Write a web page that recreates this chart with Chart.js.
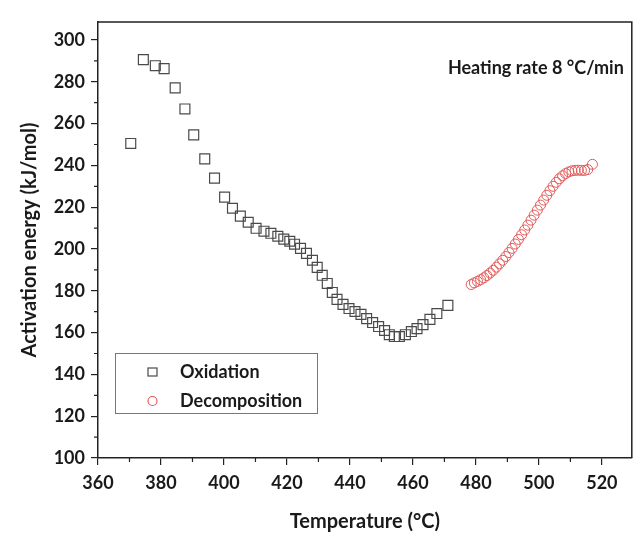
<!DOCTYPE html>
<html>
<head>
<meta charset="utf-8">
<script src="https://cdn.jsdelivr.net/npm/chart.js@4.4.1/dist/chart.umd.min.js"></script>
<style>
  html, body { margin: 0; padding: 0; background: #fff; }
  #wrap { width: 640px; height: 547px; }
</style>
</head>
<body>
<div id="wrap"><canvas id="chart" width="640" height="547"></canvas></div>
<script>
// Oxidation (squares)
const oxTemp = [370.4, 374.4, 378.2, 381.0, 384.5, 387.6, 390.4, 393.9, 397.0, 400.2,
  402.7, 405.2, 407.7, 410.2, 412.7, 414.9, 417.1, 419.0, 420.9, 422.4,
  424.3, 426.2, 428.1, 429.6, 431.2, 432.8, 434.4, 435.9, 437.8, 439.7,
  441.6, 443.5, 445.3, 447.2, 449.1, 451.0, 452.5, 454.1, 455.7, 457.6,
  459.5, 461.3, 463.2, 465.4, 467.6, 471.1];
const oxEnergy = [250.5, 290.6, 287.7, 286.3, 277.1, 267.0, 254.6, 243.1, 233.9, 224.8,
  219.5, 215.7, 212.8, 209.9, 208.5, 207.5, 206.1, 204.7, 203.7, 202.3,
  200.3, 197.9, 194.6, 191.2, 187.4, 183.5, 179.2, 175.9, 173.5, 171.5,
  170.1, 168.7, 166.7, 164.8, 162.9, 161.0, 159.0, 158.1, 158.1, 159.0,
  160.5, 161.9, 163.8, 166.3, 169.1, 173.0];

// Decomposition (circles)
const decTemp = [478.5, 479.5, 480.5, 481.5, 482.5, 483.5, 484.5, 485.5, 486.5, 487.5,
  488.5, 489.5, 490.5, 491.5, 492.5, 493.5, 494.5, 495.5, 496.5, 497.5,
  498.5, 499.5, 500.5, 501.5, 502.5, 503.5, 504.5, 505.5, 506.5, 507.5,
  508.5, 509.5, 510.5, 511.5, 512.5, 513.5, 514.5, 515.5, 517.0];
const decEnergy = [183.0, 183.8, 184.5, 185.3, 186.2, 187.3, 188.5, 189.8, 191.3, 192.9,
  194.6, 196.4, 198.3, 200.3, 202.4, 204.6, 206.8, 209.1, 211.4, 213.8,
  216.2, 218.6, 221.0, 223.4, 225.7, 227.9, 230.0, 231.9, 233.6, 235.0,
  236.1, 236.9, 237.4, 237.6, 237.7, 237.6, 237.6, 238.0, 240.5];

const xMinorTicks = [370, 390, 410, 430, 450, 470, 490, 510];
const yMinorTicks = [110, 130, 150, 170, 190, 210, 230, 250, 270, 290];
const noteText = 'Heating rate 8 \u00b0C/min';

const FONT = 'Lato, "Open Sans", sans-serif';
const TEXT = '#1a1a1a';

function toPoints(xs, ys) {
  return xs.map((x, i) => ({ x, y: ys[i] }));
}

// frame, minor ticks, legend box and note
const extras = {
  id: 'extras',
  afterDraw(chart) {
    const { ctx, chartArea: a, scales } = chart;
    ctx.save();
    ctx.strokeStyle = '#222';
    ctx.lineWidth = 1.5;
    ctx.beginPath();
    ctx.moveTo(a.left, a.top);
    ctx.lineTo(a.right, a.top);
    ctx.lineTo(a.right, a.bottom);
    ctx.stroke();

    ctx.lineWidth = 1.2;
    ctx.beginPath();
    xMinorTicks.forEach(v => {
      const px = scales.x.getPixelForValue(v);
      ctx.moveTo(px, a.bottom);
      ctx.lineTo(px, a.bottom + 4);
    });
    yMinorTicks.forEach(v => {
      const py = scales.y.getPixelForValue(v);
      ctx.moveTo(a.left, py);
      ctx.lineTo(a.left - 4, py);
    });
    ctx.stroke();

    // note
    ctx.fillStyle = TEXT;
    ctx.font = 'bold 18px ' + FONT;
    ctx.textAlign = 'right';
    ctx.textBaseline = 'middle';
    ctx.fillText(noteText, a.right - 8, 68);

    // legend
    const lx = 115, ly = 353, lw = 202, lh = 60;
    ctx.strokeStyle = '#777';
    ctx.lineWidth = 1;
    ctx.strokeRect(lx + 0.5, ly + 0.5, lw, lh);
    ctx.font = 'bold 18px ' + FONT;
    ctx.textAlign = 'left';
    chart.data.datasets.forEach((ds, i) => {
      const cy = ly + 19 + i * 29;
      ctx.strokeStyle = ds.borderColor;
      ctx.lineWidth = 1.2;
      if (ds.pointStyle === 'rect') {
        ctx.strokeRect(148, cy - 4, 9, 8);
      } else {
        ctx.beginPath();
        ctx.arc(152.5, cy, 4.5, 0, Math.PI * 2);
        ctx.stroke();
      }
      ctx.fillStyle = TEXT;
      ctx.fillText(ds.label, 180, cy);
    });
    ctx.restore();
  }
};

new Chart(document.getElementById('chart').getContext('2d'), {
  type: 'scatter',
  data: {
    datasets: [
      {
        label: 'Oxidation',
        data: toPoints(oxTemp, oxEnergy),
        pointStyle: 'rect',
        pointRadius: 7,
        borderColor: '#4a4a4a',
        backgroundColor: 'rgba(0,0,0,0)',
        borderWidth: 1.2
      },
      {
        label: 'Decomposition',
        data: toPoints(decTemp, decEnergy),
        pointStyle: 'circle',
        pointRadius: 5,
        borderColor: '#e25a5a',
        backgroundColor: 'rgba(0,0,0,0)',
        borderWidth: 1
      }
    ]
  },
  options: {
    responsive: false,
    animation: false,
    devicePixelRatio: 1,
    layout: { padding: { top: 22, right: 1, left: 0, bottom: 0 } },
    plugins: {
      legend: { display: false },
      tooltip: { enabled: false }
    },
    scales: {
      x: {
        type: 'linear',
        min: 360,
        max: 529.5,
        afterFit: s => { s.height = 89; s.paddingRight = 0; s.paddingLeft = 0; },
        border: { display: true, color: '#222', width: 1.5 },
        grid: { drawOnChartArea: false, drawTicks: true, tickLength: 7, color: '#222', lineWidth: 1.2 },
        ticks: {
          stepSize: 20,
          includeBounds: false,
          padding: 7,
          color: TEXT,
          maxRotation: 0,
          font: { family: FONT, size: 18, weight: 'bold' }
        },
        title: {
          display: true,
          text: 'Temperature (\u00b0C)',
          color: TEXT,
          padding: { top: 0, bottom: 13 },
          font: { family: FONT, size: 20, weight: 'bold', lineHeight: 1.2 }
        }
      },
      y: {
        type: 'linear',
        min: 100,
        max: 308.6,
        afterFit: s => { s.width = 98; },
        border: { display: true, color: '#222', width: 1.5 },
        grid: { drawOnChartArea: false, drawTicks: true, tickLength: 7, color: '#222', lineWidth: 1.2 },
        ticks: {
          stepSize: 20,
          includeBounds: false,
          padding: 6,
          color: TEXT,
          font: { family: FONT, size: 18, weight: 'bold' }
        },
        title: {
          display: true,
          text: 'Activation energy (kJ/mol)',
          color: TEXT,
          padding: { top: 18, bottom: 0 },
          font: { family: FONT, size: 20, weight: 'bold', lineHeight: 1.2 }
        }
      }
    }
  },
  plugins: [extras]
});
</script>
</body>
</html>
